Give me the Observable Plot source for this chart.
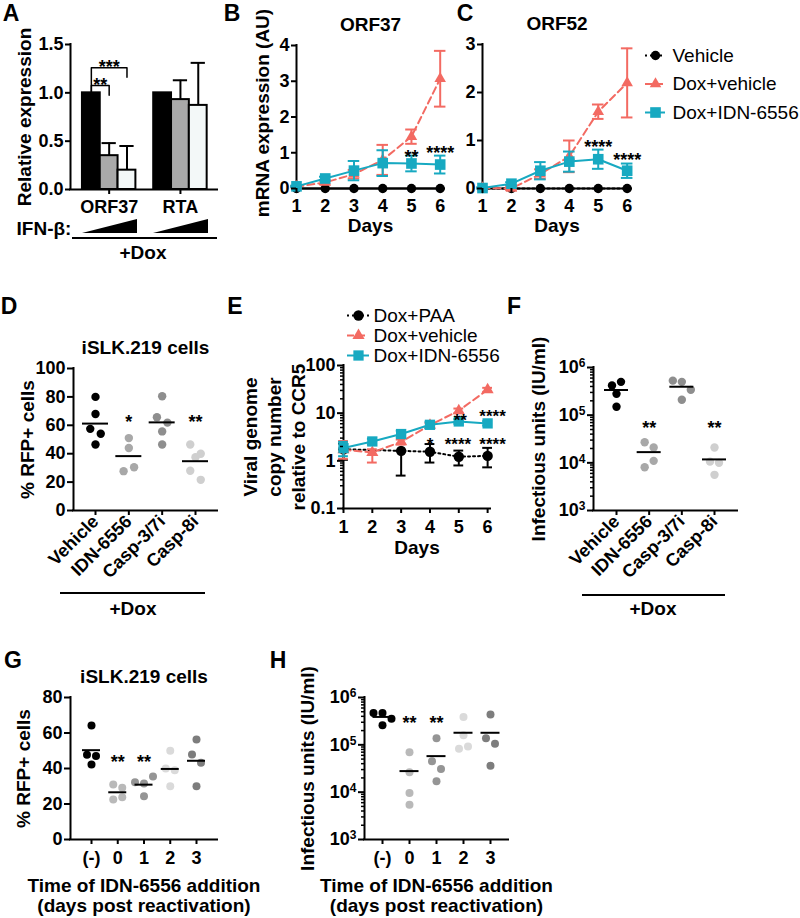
<!DOCTYPE html>
<html>
<head>
<meta charset="utf-8">
<script src="https://cdn.jsdelivr.net/npm/d3@7"></script>
<script src="https://cdn.jsdelivr.net/npm/@observablehq/plot@0.6"></script>
<style>
html,body{margin:0;padding:0;background:#fff;}
#fig{position:relative;width:800px;height:918px;overflow:hidden;background:#fff;font-family:"Liberation Sans",Arial,Helvetica,sans-serif;color:#000;}
</style>
</head>
<body>
<div id="fig"></div>
<script>
// ================= DATA =================
// Panel A
const genesA = ["ORF37", "RTA"];
const ifnLevelsA = ["none", "low", "high"];
const relExpr37 = [1.0, 0.35, 0.20];
const relExpr37Err = [0, 0.13, 0.25];
const relExprRTA = [1.0, 0.93, 0.87];
const relExprRTAErr = [0, 0.20, 0.44];
const fillA = ["#000000", "#a9a9a9", "#f3f8f8"];
const sigA = [{from: 0, to: 1, label: "**", level: 1.075}, {from: 0, to: 2, label: "***", level: 1.26}];

// Panels B, C
const days = [1, 2, 3, 4, 5, 6];
const seriesBC = ["Vehicle", "Dox+vehicle", "Dox+IDN-6556"];
const orf37Vehicle = [0, 0, 0, 0, 0, 0];
const orf37VehicleErr = [0, 0, 0, 0, 0, 0];
const orf37DoxVeh = [0.05, 0.17, 0.40, 0.80, 1.45, 3.07];
const orf37DoxVehErr = [0.02, 0.05, 0.12, 0.42, 0.20, 0.78];
const orf37DoxIdn = [0.06, 0.28, 0.50, 0.71, 0.70, 0.67];
const orf37DoxIdnErr = [0.02, 0.05, 0.27, 0.36, 0.22, 0.25];
const orf52Vehicle = [0, 0, 0, 0, 0, 0];
const orf52VehicleErr = [0, 0, 0, 0, 0, 0];
const orf52DoxVeh = [0.01, 0.0, 0.30, 0.67, 1.60, 2.20];
const orf52DoxVehErr = [0.01, 0.03, 0.10, 0.33, 0.15, 0.72];
const orf52DoxIdn = [0.01, 0.10, 0.37, 0.56, 0.61, 0.37];
const orf52DoxIdnErr = [0.01, 0.03, 0.18, 0.21, 0.20, 0.15];
const sigB = [{day: 5, label: "**", y: 1.0}, {day: 6, label: "****", y: 1.09}];
const sigC = [{day: 5, label: "****", y: 0.94}, {day: 6, label: "****", y: 0.67}];

// Panel D
const catsD = ["Vehicle", "IDN-6556", "Casp-3/7i", "Casp-8i"];
const rfpVehicle = [80, 68, 57.5, 54, 46.5];
const rfpIDN = [51, 44, 27.7, 30.5];
const rfpCasp37 = [80.5, 65.7, 61.9, 55.7, 46.5];
const rfpCasp8 = [46.5, 40, 37.5, 28, 21.6];
const greysD = ["#000000", "#a8a8a8", "#8e8e8e", "#cfcfcf"];
const sigD = [{i: 1, label: "*", y: 65}, {i: 3, label: "**", y: 65}];

// Panel E
const seriesE = ["Dox+PAA", "Dox+vehicle", "Dox+IDN-6556"];
const ePAA = [1.75, null, 1.62, 1.55, 1.22, 1.27];
const ePAALo = [1.05, null, 0.49, 0.92, 0.80, 0.73];
const ePAAHi = [2.30, null, 1.62, 2.25, 1.64, 1.87];
const eVeh = [1.70, 1.50, 2.50, 5.60, 11.3, 31];
const eVehLo = [1.10, 0.92, 2.20, 5.00, 10.0, 28];
const eVehHi = [2.60, 1.75, 2.80, 6.20, 12.5, 34];
const eIdn = [1.85, 2.55, 3.65, 5.70, 6.70, 6.10];
const eIdnLo = [1.25, 2.20, 3.10, 4.80, 6.00, 5.50];
const eIdnHi = [2.50, 2.90, 4.30, 6.60, 7.50, 6.80];
// star label positions (label centre, in day / axis units)
const sigE = [{day: 5.05, label: "**", y: 8.4}, {day: 6.17, label: "****", y: 10.1},
              {day: 4, label: "*", y: 2.67}, {day: 4.97, label: "****", y: 2.67}, {day: 6.17, label: "****", y: 2.67}];

// Panel F
const iuVehicle = [4.2e5, 5.0e5, 2.8e5, 1.5e5];
const iuIDN = [2.7e4, 2.1e4, 8.1e3, 1.1e4];
const iuCasp37 = [5.3e5, 5.0e5, 3.4e5, 2.1e5];
const iuCasp8 = [2.1e4, 1.06e4, 1.0e4, 5.6e3];
const sigF = [{i: 1, label: "**", y: 6.3e4}, {i: 3, label: "**", y: 6.3e4}];

// Panels G, H
const catsGH = ["(-)", "0", "1", "2", "3"];
const greysGH = ["#000000", "#b9b9b9", "#959595", "#dadada", "#7d7d7d"];
const rfpTimeNeg = [64.2, 47.7, 47.1, 42.3];
const rfpTime0 = [31, 29.1, 22.5, 23.8];
const rfpTime1 = [32.3, 31.5, 35.5, 24.3];
const rfpTime2 = [50, 40, 39, 30];
const rfpTime3 = [56.3, 47.9, 43.2, 30];
const sigG = [{i: 1, label: "**", y: 45.6}, {i: 2, label: "**", y: 45.6}];
const iuTimeNeg = [4.7e5, 4.7e5, 3.55e5, 2.6e5];
const iuTime0 = [7.0e4, 2.65e4, 9.6e3, 5.4e3];
const iuTime1 = [1.38e5, 4.5e4, 3.1e4, 1.7e4];
const iuTime2 = [3.85e5, 1.6e5, 8.3e4, 9.2e4];
const iuTime3 = [4.4e5, 1.38e5, 1.05e5, 3.6e4];
const sigH = [{i: 1, label: "**", y: 3.44e5}, {i: 2, label: "**", y: 3.44e5}];

// ================= STYLE / HELPERS =================
const RED = "#f36a62", BLUE = "#17a9c1";
const FONT = '"Liberation Sans", Arial, Helvetica, sans-serif';
const baseStyle = {fontFamily: FONT, fontSize: "18px", fontWeight: "bold", background: "transparent", overflow: "visible", color: "#000"};
const fig = document.getElementById("fig");

const styleBC = {
  "Vehicle": {color: "#000", symbol: "circle", r: 4.7},
  "Dox+vehicle": {color: RED, symbol: "triangle", r: 4.3, dash: "7,4"},
  "Dox+IDN-6556": {color: BLUE, symbol: "square", r: 6}
};
const styleE = {
  "Dox+PAA": {color: "#000", symbol: "circle", r: 5.2, dash: "2,3"},
  "Dox+vehicle": {color: RED, symbol: "triangle", r: 4.5, dash: "7,4"},
  "Dox+IDN-6556": {color: BLUE, symbol: "square", r: 5.8}
};

function panel(box, frame, options) {
  const svg = Plot.plot({
    width: box.w, height: box.h,
    marginLeft: frame.x0 - box.x, marginRight: box.x + box.w - frame.x1,
    marginTop: frame.y0 - box.y, marginBottom: box.y + box.h - frame.y1,
    style: baseStyle,
    color: {type: "identity"},
    ...options
  });
  Object.assign(svg.style, {position: "absolute", left: box.x + "px", top: box.y + "px"});
  fig.appendChild(svg);
  return svg;
}

function axisLines(xMin, yMin) {
  return [
    Plot.ruleX([xMin], {strokeWidth: 2, strokeLinecap: "square"}),
    Plot.ruleY([yMin], {strokeWidth: 2, strokeLinecap: "square"})
  ];
}

// centred text label anchored to the frame
function frameText(txt, frameAnchor, opts) {
  return Plot.text([txt], {text: d => d, frameAnchor, textAnchor: "middle", lineAnchor: "middle", fontSize: 19, ...opts});
}

function superscripts(svg) {
  d3.select(svg).selectAll("text").each(function () {
    const m = /^10\^(\d+)$/.exec(this.textContent);
    if (!m) return;
    const sel = d3.select(this);
    sel.text("10");
    sel.append("tspan").attr("dy", "-0.5em").attr("font-size", "12px").text(m[1]);
  });
}

function seriesMarks(rows, st, cap) {
  const dash = st.dash ? {strokeDasharray: st.dash} : {};
  const pts = rows.filter(d => d.v != null);
  const eb = pts.filter(d => d.hi > d.lo);
  return [
    Plot.line(pts, {x: "x", y: "v", stroke: st.color, strokeWidth: 2, ...dash}),
    Plot.ruleX(eb, {x: "x", y1: "lo", y2: "hi", stroke: st.color, strokeWidth: 2}),
    Plot.ruleY(eb, {y: "hi", x1: d => d.x - cap, x2: d => d.x + cap, stroke: st.color, strokeWidth: 2}),
    Plot.ruleY(eb, {y: "lo", x1: d => d.x - cap, x2: d => d.x + cap, stroke: st.color, strokeWidth: 2}),
    Plot.dot(pts, {x: "x", y: "v", symbol: st.symbol, r: st.r, fill: st.color})
  ];
}

function swarmOffsets(vals, ypx, thresh, spacing) {
  const order = vals.map((_, j) => j).sort((a, b) => ypx(vals[a]) - ypx(vals[b]));
  const offs = vals.map(() => 0);
  let k = 0;
  while (k < order.length) {
    const y0 = ypx(vals[order[k]]);
    const row = [order[k++]];
    while (k < order.length && ypx(vals[order[k]]) - y0 < thresh) row.push(order[k++]);
    row.sort((a, b) => a - b);
    row.forEach((j, m) => { offs[j] = (m - (row.length - 1) / 2) * spacing; });
  }
  return offs;
}

function htmlText(txt, cx, cy, size, weight = "bold") {
  const d = document.createElement("div");
  d.textContent = txt;
  Object.assign(d.style, {position: "absolute", left: cx + "px", top: cy + "px", fontSize: size + "px",
    fontWeight: weight, lineHeight: "1", whiteSpace: "nowrap", transform: "translate(-50%,-50%)"});
  fig.appendChild(d);
}
function htmlBox(x, y, w, h, clip) {
  const d = document.createElement("div");
  Object.assign(d.style, {position: "absolute", left: x + "px", top: y + "px", width: w + "px", height: h + "px", background: "#000"});
  if (clip) d.style.clipPath = clip;
  fig.appendChild(d);
}

const logMinor = (lo, decades) => d3.range(decades).flatMap(k => d3.range(2, 10).map(m => m * lo * Math.pow(10, k)));
const pow10Fmt = d => "10^" + Math.round(Math.log10(d));

// ================= PANEL A =================
{
  const box = {x: 0, y: 0, w: 232, h: 220};
  const frame = {x0: 70, x1: 217, y0: 44, y1: 189};
  const xDom = [-0.67, 7.58];
  const means = [relExpr37, relExprRTA], errs = [relExpr37Err, relExprRTAErr];
  const bars = genesA.flatMap((g, gi) => ifnLevelsA.map((lvl, di) => ({gi, di, v: means[gi][di], e: errs[gi][di]})));
  const barX = d => d.gi * 4 + d.di;
  const eb = bars.filter(d => d.e > 0);
  const bracketPts = sigA.flatMap((s, k) => [
    {k, x: s.from + 0.5, y: relExpr37[s.from] + 0.01},
    {k, x: s.from + 0.5, y: s.level},
    {k, x: s.to + 0.5, y: s.level},
    {k, x: s.to + 0.5, y: s.level - 0.1}
  ]);
  const geneTicks = genesA.map((g, gi) => gi * 4 + 1.5);
  panel(box, frame, {
    x: {type: "linear", domain: xDom, label: null},
    y: {type: "linear", domain: [0, 1.5], label: null},
    marks: [
      Plot.rect(bars, {x1: barX, x2: d => barX(d) + 1, y1: 0, y2: "v", fill: d => fillA[d.di], stroke: "#000", strokeWidth: 2}),
      Plot.ruleX(eb, {x: d => barX(d) + 0.5, y1: "v", y2: d => d.v + d.e, strokeWidth: 2}),
      Plot.ruleY(eb, {y: d => d.v + d.e, x1: d => barX(d) + 0.1, x2: d => barX(d) + 0.9, strokeWidth: 2}),
      Plot.line(bracketPts, {x: "x", y: "y", z: "k", strokeWidth: 1.5}),
      Plot.text(sigA, {x: s => (s.from + s.to) / 2 + 0.5, y: "level", text: "label", dy: 0}),
      ...axisLines(xDom[0], 0),
      Plot.axisY([0, 0.5, 1, 1.5], {tickFormat: d => d.toFixed(1), tickSize: 5, tickPadding: 2, strokeWidth: 2, label: null}),
      Plot.axisX(geneTicks, {tickFormat: t => genesA[(t - 1.5) / 4], tickSize: 5, tickPadding: 6, strokeWidth: 2, label: null}),
      frameText("Relative expression", "left", {rotate: -90, dx: -46})
    ]
  });
}

// ================= PANELS B, C =================
function mrnaPanel({box, frame, yTicks, yMax, means, errs, sig, title, ylabel, vehDash}) {
  const xDom = [1, 6.15];
  const marks = [...axisLines(xDom[0], 0)];
  seriesBC.forEach((name, s) => {
    const st = {...styleBC[name]};
    if (name === "Vehicle" && vehDash) st.dash = vehDash;
    const rows = days.map((d, i) => ({x: d, v: means[s][i], lo: means[s][i] - errs[s][i], hi: means[s][i] + errs[s][i]}));
    marks.push(...seriesMarks(rows, st, 0.2));
  });
  marks.push(
    Plot.text(sig, {x: "day", y: "y", text: "label", dy: 4}),
    Plot.axisY(yTicks, {tickSize: 5, tickPadding: 2, strokeWidth: 2, label: null}),
    Plot.axisX(days, {tickSize: 5, tickPadding: 6, strokeWidth: 2, label: null}),
    frameText(title, "top", {dy: -21}),
    frameText("Days", "bottom", {dy: 37})
  );
  if (ylabel) marks.push(frameText(ylabel, "left", {rotate: -90, dx: -34, dy: -4}));
  panel(box, frame, {
    x: {type: "linear", domain: xDom, label: null},
    y: {type: "linear", domain: [0, yMax], label: null},
    marks
  });
}
mrnaPanel({
  box: {x: 240, y: 0, w: 215, h: 240}, frame: {x0: 296, x1: 444, y0: 45, y1: 188},
  yTicks: [0, 1, 2, 3, 4], yMax: 4,
  means: [orf37Vehicle, orf37DoxVeh, orf37DoxIdn], errs: [orf37VehicleErr, orf37DoxVehErr, orf37DoxIdnErr],
  sig: sigB, title: "ORF37", ylabel: "mRNA expression (AU)"
});
mrnaPanel({
  box: {x: 455, y: 0, w: 185, h: 240}, frame: {x0: 482, x1: 631, y0: 44, y1: 188},
  yTicks: [0, 1, 2, 3], yMax: 3,
  means: [orf52Vehicle, orf52DoxVeh, orf52DoxIdn], errs: [orf52VehicleErr, orf52DoxVehErr, orf52DoxIdnErr],
  sig: sigC, title: "ORF52", ylabel: null, vehDash: "2,3"
});

// ================= LEGENDS =================
function legendPlot(box, names, styles, rowTop, rowStep, markerX, stubHalf, textX) {
  const items = names.map((name, k) => ({name, yy: rowTop + k * rowStep}));
  const marks = items.flatMap(it => {
    const st = styles[it.name];
    const dash = st.dash ? {strokeDasharray: st.dash} : {};
    return [
      Plot.ruleY([it], {y: "yy", x1: markerX - stubHalf, x2: markerX + stubHalf, stroke: st.color, strokeWidth: 2, ...dash}),
      Plot.dot([it], {x: () => markerX, y: "yy", symbol: st.symbol, r: st.r, fill: st.color})
    ];
  });
  marks.push(Plot.text(items, {x: () => textX, y: "yy", text: "name", textAnchor: "start", lineAnchor: "middle", fontWeight: "normal", fontSize: 19}));
  const svg = Plot.plot({
    width: box.w, height: box.h, margin: 0, axis: null,
    x: {type: "identity", axis: null}, y: {type: "identity", axis: null},
    style: baseStyle, marks
  });
  Object.assign(svg.style, {position: "absolute", left: box.x + "px", top: box.y + "px"});
  fig.appendChild(svg);
}
legendPlot({x: 640, y: 40, w: 160, h: 90}, seriesBC,
  {...styleBC, "Vehicle": {...styleBC["Vehicle"], dash: "2,3"}}, 15, 28.5, 15, 10, 32);
legendPlot({x: 335, y: 300, w: 215, h: 66}, seriesE, styleE, 15, 20, 23, 11, 38);

// ================= PANEL E =================
{
  const box = {x: 235, y: 360, w: 280, h: 200};
  const frame = {x0: 343, x1: 490, y0: 365, y1: 508};
  const xDom = [1, 6.1];
  const marks = [...axisLines(xDom[0], 0.1)];
  const rowsE = [[ePAA, ePAALo, ePAAHi], [eVeh, eVehLo, eVehHi], [eIdn, eIdnLo, eIdnHi]];
  seriesE.forEach((name, s) => {
    const [m, lo, hi] = rowsE[s];
    const rows = days.map((d, i) => ({x: d, v: m[i], lo: lo[i], hi: hi[i]}));
    marks.push(...seriesMarks(rows, styleE[name], 0.17));
  });
  marks.push(
    Plot.text(sigE, {x: "day", y: "y", text: "label", dy: 4, fontSize: 17}),
    Plot.axisY([0.1, 1, 10, 100], {tickFormat: d => String(d), tickSize: 6, tickPadding: 2, strokeWidth: 2, label: null}),
    Plot.axisY(logMinor(0.1, 3), {tickFormat: () => "", tickSize: 3, strokeWidth: 1.5, label: null}),
    Plot.axisX(days, {tickSize: 5, tickPadding: 7, strokeWidth: 2, label: null}),
    frameText("Days", "bottom", {dy: 39}),
    frameText("Viral genome\ncopy number\nrelative to CCR5", "left", {rotate: -90, dx: -70, lineHeight: 1.24})
  );
  panel(box, frame, {
    x: {type: "linear", domain: xDom, label: null},
    y: {type: "log", domain: [0.1, 100], label: null},
    marks
  });
}

// ================= SCATTER PANELS D, F, G, H =================
function scatterPanel(o) {
  const {box, frame, cats, groups, colors, yType, yDomain, yTicks, yMinor, yFormat, r, spacing, meanHalf, pad, sig, rotate, title, ylabel, ylabelDx, xlabel, supers} = o;
  const n = cats.length;
  const xDom = [-pad, n - 1 + pad];
  const step = (frame.x1 - frame.x0) / (xDom[1] - xDom[0]);
  const yS = Plot.scale({y: {type: yType, domain: yDomain, range: [frame.y1, frame.y0]}});
  const pts = groups.flatMap((vals, i) => {
    const offs = swarmOffsets(vals, v => yS.apply(v), 2 * r + 1.5, spacing);
    return vals.map((v, j) => ({i, v, x: i + offs[j] / step, c: colors[i]}));
  });
  const means = groups.map((vals, i) => ({i, m: d3.mean(vals)}));
  const hw = meanHalf / step;
  const marks = [
    ...axisLines(xDom[0], yDomain[0]),
    Plot.axisY(yTicks, {tickFormat: yFormat, tickSize: 6, tickPadding: 2, strokeWidth: 2, label: null}),
    Plot.axisX(d3.range(n), {tickFormat: i => cats[i], tickSize: 5, tickPadding: rotate ? 3 : 7, tickRotate: rotate || 0, strokeWidth: 2, label: null}),
    Plot.dot(pts, {x: "x", y: "v", r, fill: "c"}),
    Plot.ruleY(means, {y: "m", x1: d => d.i - hw, x2: d => d.i + hw, strokeWidth: 2}),
    Plot.text(sig, {x: "i", y: "y", text: "label", dy: 4}),
    frameText(ylabel, "left", {rotate: -90, dx: ylabelDx})
  ];
  if (yMinor) marks.push(Plot.axisY(yMinor, {tickFormat: () => "", tickSize: 3, strokeWidth: 1.5, label: null}));
  if (title) marks.push(frameText(title, "top", {dy: -21}));
  if (xlabel) marks.push(frameText(xlabel, "bottom", {dy: 56, lineHeight: 1.05}));
  const svg = panel(box, frame, {
    x: {type: "linear", domain: xDom, label: null},
    y: {type: yType, domain: yDomain, label: null},
    marks
  });
  if (supers) superscripts(svg);
}

scatterPanel({
  box: {x: 0, y: 325, w: 232, h: 265}, frame: {x0: 73, x1: 217, y0: 368, y1: 510},
  cats: catsD, groups: [rfpVehicle, rfpIDN, rfpCasp37, rfpCasp8], colors: greysD,
  yType: "linear", yDomain: [0, 100], yTicks: [0, 20, 40, 60, 80, 100], yFormat: d => String(d),
  r: 4.2, spacing: 10.5, meanHalf: 13, pad: 0.66, sig: sigD, rotate: -45,
  title: "iSLK.219 cells", ylabel: "% RFP+ cells", ylabelDx: -46
});
scatterPanel({
  box: {x: 515, y: 330, w: 285, h: 265}, frame: {x0: 593, x1: 737, y0: 367, y1: 510},
  cats: catsD, groups: [iuVehicle, iuIDN, iuCasp37, iuCasp8], colors: greysD,
  yType: "log", yDomain: [1e3, 1e6], yTicks: [1e3, 1e4, 1e5, 1e6], yMinor: logMinor(1e3, 3), yFormat: pow10Fmt,
  r: 4.2, spacing: 9, meanHalf: 12, pad: 0.704, sig: sigF, rotate: -45,
  ylabel: "Infectious units (IU/ml)", ylabelDx: -55, supers: true
});
scatterPanel({
  box: {x: 0, y: 665, w: 290, h: 253}, frame: {x0: 70, x1: 217, y0: 697, y1: 839},
  cats: catsGH, groups: [rfpTimeNeg, rfpTime0, rfpTime1, rfpTime2, rfpTime3], colors: greysGH,
  yType: "linear", yDomain: [0, 80], yTicks: [0, 20, 40, 60, 80], yFormat: d => String(d),
  r: 4, spacing: 9, meanHalf: 9, pad: 0.8, sig: sigG,
  title: "iSLK.219 cells", ylabel: "% RFP+ cells", ylabelDx: -47,
  xlabel: "Time of IDN-6556 addition\n(days post reactivation)"
});
scatterPanel({
  box: {x: 290, y: 665, w: 250, h: 253}, frame: {x0: 364, x1: 508, y0: 697, y1: 839},
  cats: catsGH, groups: [iuTimeNeg, iuTime0, iuTime1, iuTime2, iuTime3], colors: greysGH,
  yType: "log", yDomain: [1e3, 1e6], yTicks: [1e3, 1e4, 1e5, 1e6], yMinor: logMinor(1e3, 3), yFormat: pow10Fmt,
  r: 4, spacing: 9, meanHalf: 9.5, pad: 0.667, sig: sigH,
  ylabel: "Infectious units (IU/ml)", ylabelDx: -57, supers: true,
  xlabel: "Time of IDN-6556 addition\n(days post reactivation)"
});

// ================= FIGURE DECORATIONS =================
[["A", 11, 13], ["B", 232, 13], ["C", 465, 13], ["D", 9, 306], ["E", 235, 306],
 ["F", 514, 306], ["G", 13, 660], ["H", 278, 660]].forEach(([t, x, y]) => htmlText(t, x, y, 23));
// Panel A treatment annotation
htmlText("IFN-β:", 44, 228, 19);
const wedge = "polygon(0 100%, 100% 0, 100% 100%)";
htmlBox(82, 219, 55, 14, wedge);
htmlBox(153, 219, 55, 14, wedge);
htmlBox(72, 237, 145, 2);
htmlText("+Dox", 143, 252, 19);
// Panels D, F
htmlBox(60, 592, 145, 2);
htmlText("+Dox", 133, 608, 19);
htmlBox(582, 594, 143, 2);
htmlText("+Dox", 653, 608, 19);
</script>
</body>
</html>
